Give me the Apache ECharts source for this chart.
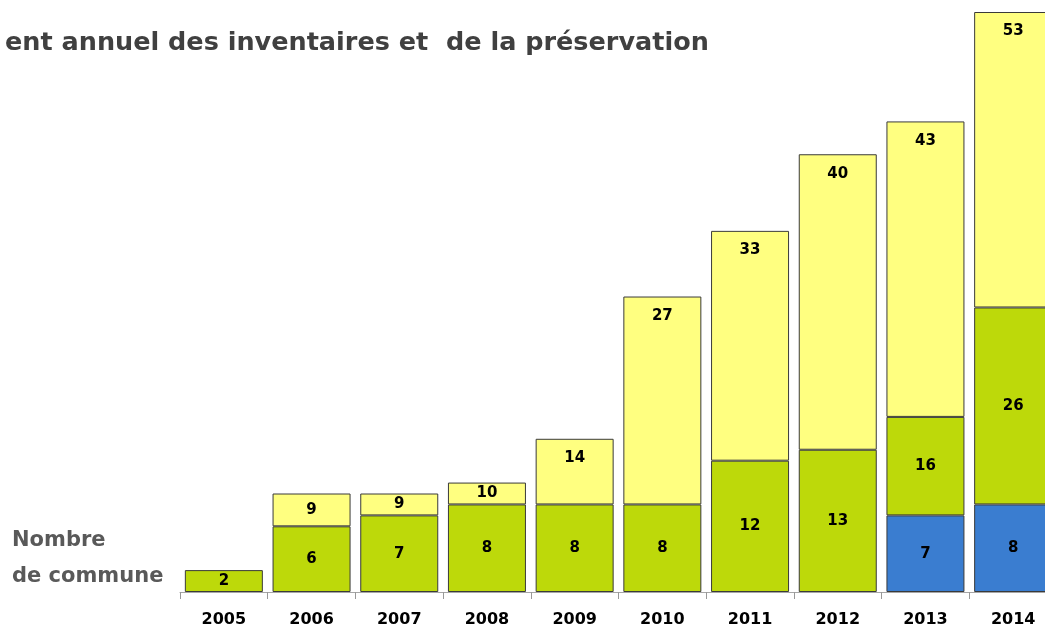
<!DOCTYPE html>
<html>
<head>
<meta charset="utf-8">
<script src="https://cdn.jsdelivr.net/npm/echarts@6/dist/echarts.min.js"></script>
<style>
  html, body { margin: 0; padding: 0; background: #fff; }
  #chart { width: 1045px; height: 628px; }
</style>
</head>
<body>
<div id="chart"></div>
<script>
// values as printed on the bars (cumulative totals per year)
const years = ['2005', '2006', '2007', '2008', '2009', '2010', '2011', '2012', '2013', '2014'];
const blueTotals = [null, null, null, null, null, null, null, null, 7, 8];
const greenTotals = [2, 6, 7, 8, 8, 8, 12, 13, 16, 26];
const yellowTotals = [null, 9, 9, 10, 14, 27, 33, 40, 43, 53];

const chart = echarts.init(document.getElementById('chart'));

// stacked segments are the differences between the printed totals
const blueSeg = blueTotals.slice();
const greenSeg = greenTotals.map((v, i) => v - (blueTotals[i] || 0));
const yellowSeg = yellowTotals.map((v, i) => v == null ? null : v - greenTotals[i]);

const labelFont = { color: '#000', fontWeight: 'bold', fontSize: 15, fontFamily: 'DejaVu Sans' };
const border = { borderColor: '#3a3a3a', borderWidth: 1 };

const option = {
  animation: false,
  title: {
    text: 'ent annuel des inventaires et  de la préservation',
    left: 0,
    top: 25,
    textStyle: { color: '#404040', fontWeight: 'bold', fontSize: 25.5, fontFamily: 'DejaVu Sans' }
  },
  graphic: [
    { type: 'text', left: 12, top: 530, style: { text: 'Nombre', fill: '#595959', font: 'bold 21px "DejaVu Sans"' } },
    { type: 'text', left: 12, top: 566, style: { text: 'de commune', fill: '#595959', font: 'bold 21px "DejaVu Sans"' } }
  ],
  grid: { left: 180, top: 12, width: 877, bottom: 36, containLabel: false, outerBoundsMode: 'none' },
  xAxis: {
    type: 'category',
    data: years,
    axisLine: { lineStyle: { color: '#a6a6a6', width: 1 } },
    axisTick: { show: true, length: 7, lineStyle: { color: '#999', width: 1 } },
    axisLabel: { color: '#000', fontWeight: 'bold', fontSize: 16, fontFamily: 'DejaVu Sans', margin: 20 }
  },
  yAxis: { type: 'value', min: 0, max: 53, show: false, splitLine: { show: false } },
  series: [
    {
      name: 'blue', type: 'bar', stack: 'total', barWidth: 78,
      data: blueSeg,
      itemStyle: Object.assign({ color: '#3a7dd0' }, border),
      label: Object.assign({ show: true, position: 'inside', formatter: p => blueTotals[p.dataIndex] }, labelFont)
    },
    {
      name: 'green', type: 'bar', stack: 'total', barWidth: 78,
      data: greenSeg,
      itemStyle: Object.assign({ color: '#bdd90a' }, border),
      label: Object.assign({ show: true, position: 'inside', formatter: p => greenTotals[p.dataIndex] }, labelFont)
    },
    {
      name: 'yellow', type: 'bar', stack: 'total', barWidth: 78,
      data: yellowSeg.map(v => v == null ? null : {
        value: v,
        label: v <= 3 ? { position: 'inside' } : { position: 'insideTop', distance: 12 }
      }),
      itemStyle: Object.assign({ color: '#ffff80' }, border),
      label: Object.assign({ show: true, formatter: p => yellowTotals[p.dataIndex] }, labelFont)
    }
  ]
};

chart.setOption(option);
</script>
</body>
</html>
